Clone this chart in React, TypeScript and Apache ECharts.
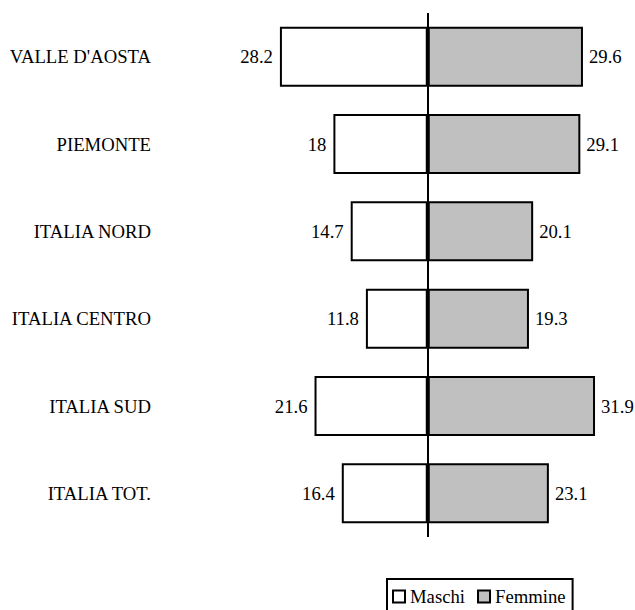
import React, { useEffect, useRef } from "react";
import * as echarts from "echarts";

const categories = [
  "VALLE D'AOSTA",
  "PIEMONTE",
  "ITALIA NORD",
  "ITALIA CENTRO",
  "ITALIA SUD",
  "ITALIA TOT.",
];
const maschi = [28.2, 18, 14.7, 11.8, 21.6, 16.4];
const femmine = [29.6, 29.1, 20.1, 19.3, 31.9, 23.1];
const seriesNames = ["Maschi", "Femmine"];

const FONT = "Liberation Serif";
const FONT_SIZE = 18.7;

export default function App() {
  const ref = useRef<HTMLDivElement>(null);

  useEffect(() => {
    if (!ref.current) return;
    const chart = echarts.init(ref.current, undefined, { renderer: "svg" });
    chart.setOption({
      animation: false,
      backgroundColor: "#ffffff",
      textStyle: { fontFamily: FONT },
      grid: { left: 260, right: 8, top: 13, bottom: 73 },
      xAxis: {
        type: "value",
        min: -32,
        max: 38,
        show: false,
      },
      yAxis: {
        type: "category",
        data: categories,
        inverse: true,
        axisLine: { show: false },
        axisTick: { show: false },
        splitLine: { show: false },
        axisLabel: {
          margin: 109,
          fontSize: FONT_SIZE,
          color: "#000",
          fontFamily: FONT,
        },
      },
      legend: {
        data: seriesNames,
        orient: "horizontal",
        left: 387,
        top: 579,
        icon: "rect",
        itemWidth: 12,
        itemHeight: 12,
        itemGap: 12,
        padding: [8, 7, 8, 5],
        borderColor: "#000",
        borderWidth: 2,
        borderRadius: 0,
        textStyle: { fontSize: FONT_SIZE, color: "#000", fontFamily: FONT },
        itemStyle: { borderColor: "#000", borderWidth: 2 },
      },
      series: [
        {
          name: seriesNames[0],
          type: "bar",
          data: maschi.map((v) => -v),
          barWidth: 60,
          barGap: "-100%",
          itemStyle: { color: "#ffffff", borderColor: "#000", borderWidth: 2 },
          label: {
            show: true,
            position: "left",
            distance: 7,
            fontSize: FONT_SIZE,
            color: "#000",
            fontFamily: FONT,
            formatter: (p: any) => String(Math.abs(p.value)),
          },
        },
        {
          name: seriesNames[1],
          type: "bar",
          data: femmine,
          barWidth: 60,
          barGap: "-100%",
          itemStyle: { color: "#c0c0c0", borderColor: "#000", borderWidth: 2 },
          label: {
            show: true,
            position: "right",
            distance: 6,
            fontSize: FONT_SIZE,
            color: "#000",
            fontFamily: FONT,
          },
          markLine: {
            silent: true,
            symbol: ["none", "none"],
            label: { show: false },
            lineStyle: { color: "#000", width: 2, type: "solid" },
            data: [{ xAxis: 0 }],
          },
        },
      ],
    });
    return () => chart.dispose();
  }, []);

  return (
    <div
      ref={ref}
      style={{ position: "fixed", left: 0, top: 0, width: 635, height: 610 }}
    />
  );
}
